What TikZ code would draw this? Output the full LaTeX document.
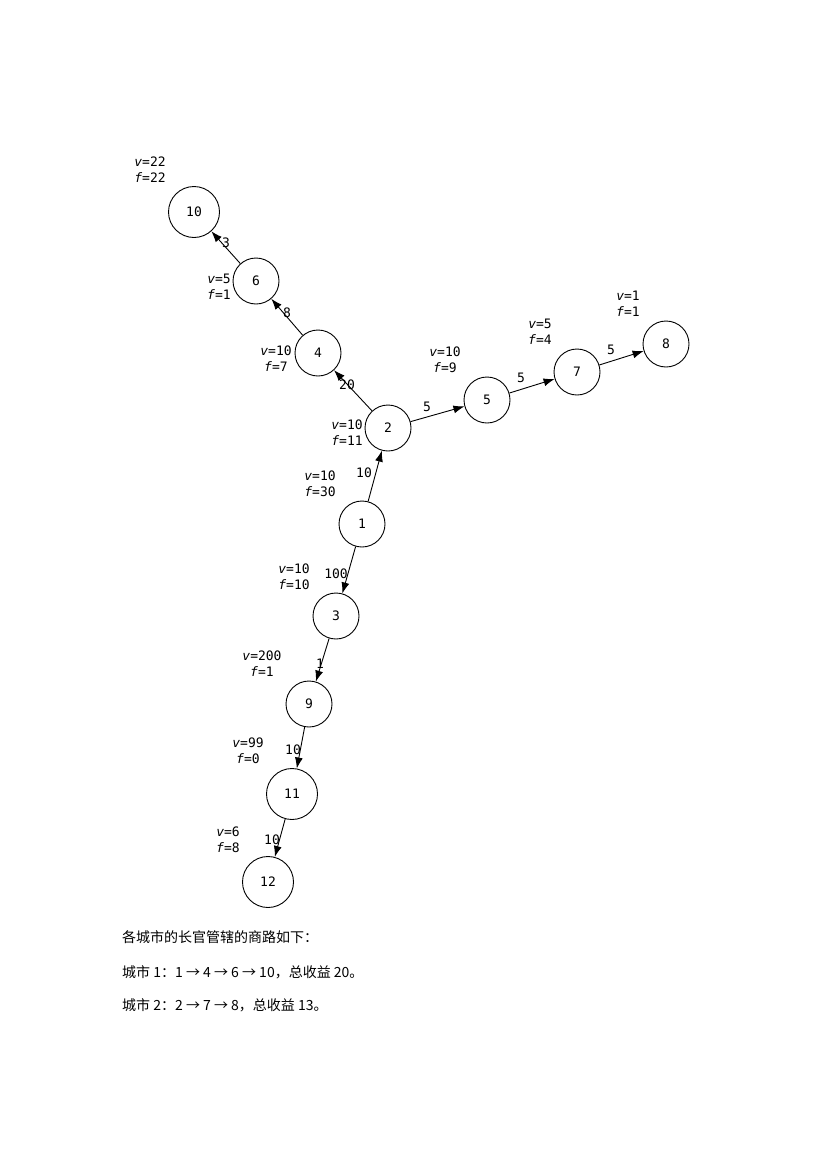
\documentclass[tikz,border=0pt]{standalone}
\usepackage{fontspec}
\setmonofont{DejaVu Sans Mono}
\newfontfamily\cjk{Noto Sans CJK SC}
\usetikzlibrary{arrows.meta}
\begin{document}
\begin{tikzpicture}[x=1pt,y=-1pt,
  vtx/.style={circle,draw,line width=0.9pt,minimum size=46pt,inner sep=0pt,font=\ttfamily\fontsize{13}{15}\selectfont},
  big/.style={minimum size=51pt},
  edge/.style={-{Latex[length=11pt,width=8pt]},line width=0.9pt},
  el/.style={font=\ttfamily\fontsize{13}{15}\selectfont,inner sep=0pt},
  vf/.style={font=\ttfamily\fontsize{13}{16}\selectfont,align=center,inner sep=0pt},
  tx/.style={font=\cjk\fontsize{14}{16}\selectfont,anchor=west,inner sep=0pt}]
\useasboundingbox (0,0) rectangle (827,1170);
\node[vtx,big] (n10) at (194,212) {10};
\node[vtx] (n6) at (256,281) {6};
\node[vtx] (n4) at (318,353) {4};
\node[vtx] (n2) at (388,428) {2};
\node[vtx] (n5) at (487,400) {5};
\node[vtx] (n7) at (577,372) {7};
\node[vtx] (n8) at (666,344) {8};
\node[vtx] (n1) at (362,524) {1};
\node[vtx] (n3) at (336,616) {3};
\node[vtx] (n9) at (309,704) {9};
\node[vtx,big] (n11) at (292,794) {11};
\node[vtx,big] (n12) at (268,882) {12};
\draw[edge] (n2) -- (n4);
\draw[edge] (n4) -- (n6);
\draw[edge] (n6) -- (n10);
\draw[edge] (n1) -- (n2);
\draw[edge] (n2) -- (n5);
\draw[edge] (n5) -- (n7);
\draw[edge] (n7) -- (n8);
\draw[edge] (n1) -- (n3);
\draw[edge] (n3) -- (n9);
\draw[edge] (n9) -- (n11);
\draw[edge] (n11) -- (n12);
\node[el] (e1) at (347,385) {20};
\node[el] (e2) at (287,313) {8};
\node[el] (e3) at (226,243) {3};
\node[el] (e4) at (364,473) {10};
\node[el] (e5) at (427,407) {5};
\node[el] (e6) at (521,378) {5};
\node[el] (e7) at (611,350) {5};
\node[el] (e8) at (336,574) {100};
\node[el] (e9) at (320,664) {1};
\node[el] (e10) at (293,750) {10};
\node[el] (e11) at (272,840) {10};
\node[vf] (l10) at (150,170) {\textit{v}=22\\\textit{f}=22};
\node[vf] (l6) at (219,287) {\textit{v}=5\\\textit{f}=1};
\node[vf] (l4) at (276,359) {\textit{v}=10\\\textit{f}=7};
\node[vf] (l2) at (347,433) {\textit{v}=10\\\textit{f}=11};
\node[vf] (l5) at (445,360) {\textit{v}=10\\\textit{f}=9};
\node[vf] (l7) at (540,332) {\textit{v}=5\\\textit{f}=4};
\node[vf] (l8) at (628,304) {\textit{v}=1\\\textit{f}=1};
\node[vf] (l1) at (320,484) {\textit{v}=10\\\textit{f}=30};
\node[vf] (l3) at (294,577) {\textit{v}=10\\\textit{f}=10};
\node[vf] (l9) at (262,664) {\textit{v}=200\\\textit{f}=1};
\node[vf] (l11) at (248,751) {\textit{v}=99\\\textit{f}=0};
\node[vf] (l12) at (228,840) {\textit{v}=6\\\textit{f}=8};
\node[tx] (t1) at (122,937) {各城市的长官管辖的商路如下：};
\node[tx] (t2) at (122,972) {城市 1：1 → 4 → 6 → 10，总收益 20。};
\node[tx] (t3) at (122,1005) {城市 2：2 → 7 → 8，总收益 13。};
\end{tikzpicture}
\end{document}
